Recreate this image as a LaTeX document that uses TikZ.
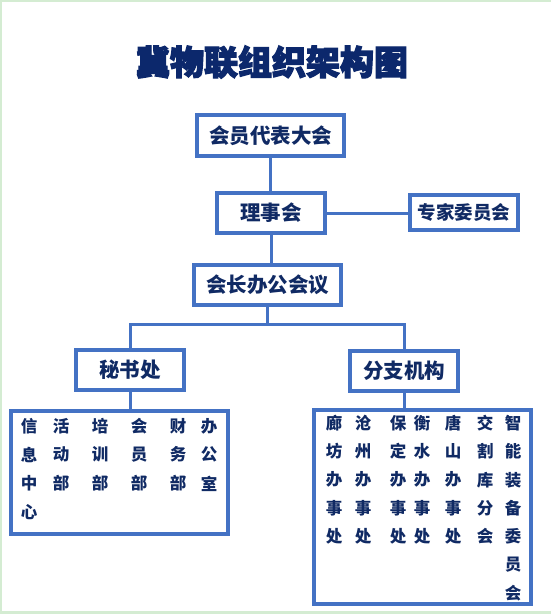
\documentclass[tikz,border=0pt]{standalone}
\usepackage{fontspec}
\newfontfamily\cjk{Noto Sans CJK SC}
\newfontfamily\cjktitle[BoldFeatures={FakeBold=3.5}]{Noto Sans CJK SC}
\definecolor{boxblue}{RGB}{68,114,196}
\definecolor{navy}{RGB}{16,42,100}
\definecolor{titlenavy}{RGB}{12,40,108}
\definecolor{framegreen}{RGB}{212,236,210}
\tikzset{
  box/.style={draw=boxblue, line width=4pt, fill=white, inner sep=0pt, text=navy,
    font=\cjk\bfseries\fontsize{20.5}{24}\selectfont, minimum width=108pt, minimum height=40pt},
  conn/.style={draw=boxblue, line width=3pt},
  ch/.style={text=navy, font=\cjk\bfseries\fontsize{16.5}{18}\selectfont, inner sep=0pt},
}
\begin{document}
\begin{tikzpicture}[x=1pt,y=-1pt]
\useasboundingbox (0,0) rectangle (551,614);
\fill[white] (0,0) rectangle (551,614);
\fill[framegreen] (0,0) rectangle (551,1.5);
\fill[framegreen] (0,0) rectangle (1.5,614);
\fill[framegreen] (0,611) rectangle (551,614);

\node[text=titlenavy, font=\cjktitle\bfseries\fontsize{34}{40}\selectfont, inner sep=0pt] (title) at (272,62) {冀物联组织架构图};

\node[box, minimum width=147pt, minimum height=41pt] (A) at (270.5,135.5) {会员代表大会};
\node[box] (B) at (271,213) {理事会};
\node[box, minimum height=35pt, font=\cjk\bfseries\fontsize{18.5}{22}\selectfont] (C) at (464,212.5) {专家委员会};
\node[box, minimum width=147pt] (D) at (267.5,285) {会长办公会议};
\node[box] (E) at (130,370) {秘书处};
\node[box] (F) at (404,371) {分支机构};
\node[box, minimum width=217pt, minimum height=123pt] (G) at (119.5,472.5) {};
\node[box, minimum width=217pt, minimum height=194pt] (H) at (422.5,507) {};

\coordinate (busL) at (130,324);
\coordinate (busR) at (404,324);
\coordinate (busM) at (D.south |- busL);

\draw[conn] (A.south) -- (A.south |- B.north);
\draw[conn] (B.east) -- (C.west |- B.east);
\draw[conn] (B.south) -- (B.south |- D.north);
\draw[conn] (D.south) -- (busM);
\draw[conn] (E.north) -- (busL) -- (busR) -- (F.north);
\draw[conn] (E.south) -- (E.south |- G.north);
\draw[conn] (F.south) -- (F.south |- H.north);

\foreach \cx/\cs [count=\j] in {29/{信,息,中,心},61/{活,动,部},100/{培,训,部},139/{会,员,部},178/{财,务,部},209/{办,公,室}}{
  \foreach \c [count=\i] in \cs {
    \node[ch] (L\j-\i) at ({\cx},{426+28.7*(\i-1)}) {\c};
  }
}
\foreach \cx/\cs [count=\j] in {334/{廊,坊,办,事,处},363/{沧,州,办,事,处},398/{保,定,办,事,处},422/{衡,水,办,事,处},453/{唐,山,办,事,处},485/{交,割,库,分,会},513/{智,能,装,备,委,员,会}}{
  \foreach \c [count=\i] in \cs {
    \node[ch] (R\j-\i) at ({\cx},{423+28.4*(\i-1)}) {\c};
  }
}
\end{tikzpicture}
\end{document}
